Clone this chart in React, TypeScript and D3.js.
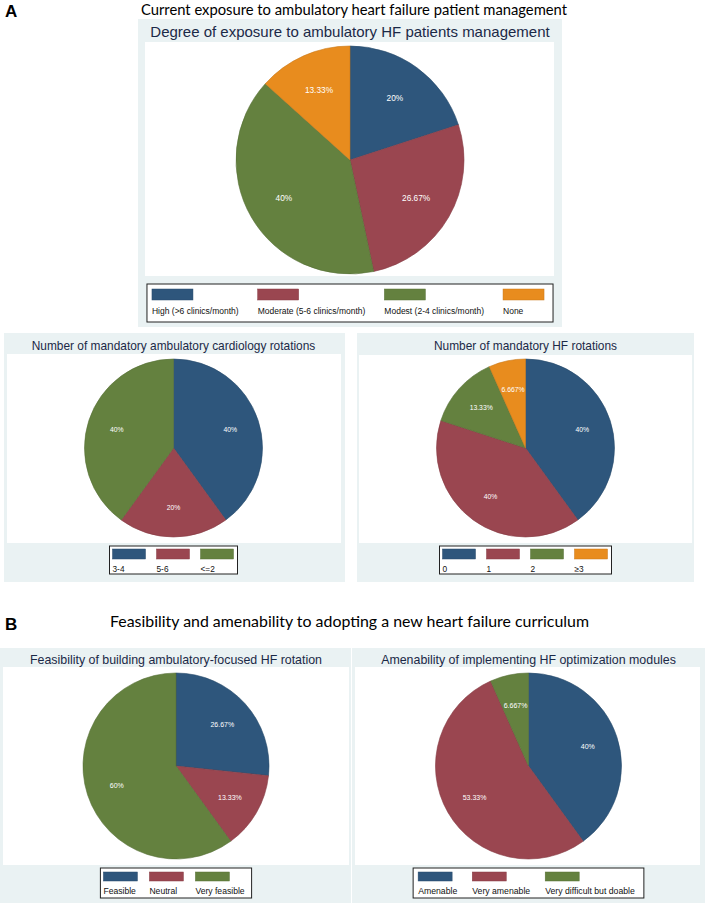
import React from "react";
import * as d3 from "d3";

// ---------- DATA ----------
const titleA = "Current exposure to ambulatory heart failure patient management";
const titleB = "Feasibility and amenability to adopting a new heart failure curriculum";

const exposureTitle = "Degree of exposure to ambulatory HF patients management";
const exposureCategories = ["High (>6 clinics/month)", "Moderate (5-6 clinics/month)", "Modest (2-4 clinics/month)", "None"];
const exposureValues = [20, 26.67, 40, 13.33];
const exposureLabels = ["20%", "26.67%", "40%", "13.33%"];

const cardioTitle = "Number of mandatory ambulatory cardiology rotations";
const cardioCategories = ["3-4", "5-6", "<=2"];
const cardioValues = [40, 20, 40];
const cardioLabels = ["40%", "20%", "40%"];

const hfRotTitle = "Number of mandatory HF rotations";
const hfRotCategories = ["0", "1", "2", "≥3"];
const hfRotValues = [40, 40, 13.33, 6.667];
const hfRotLabels = ["40%", "40%", "13.33%", "6.667%"];

const feasTitle = "Feasibility of building ambulatory-focused HF rotation";
const feasCategories = ["Feasible", "Neutral", "Very feasible"];
const feasValues = [26.67, 13.33, 60];
const feasLabels = ["26.67%", "13.33%", "60%"];

const amenTitle = "Amenability of implementing HF optimization modules";
const amenCategories = ["Amenable", "Very amenable", "Very difficult but doable"];
const amenValues = [40, 53.33, 6.667];
const amenLabels = ["40%", "53.33%", "6.667%"];

const palette = ["#2e567c", "#9a4650", "#64813f", "#e88c1e"];

// ---------- LAYOUT ----------
const BG = "#eaf2f3";
const TITLE_COLOR = "#1b2947";
const FONT = "'Liberation Sans', Arial, sans-serif";

type Layout = {
  bg: [number, number, number, number];
  plot: [number, number, number, number];
  titleY: number;
  titleSize: number;
  cx: number;
  cy: number;
  r: number;
  labelSize: number;
  legTop: number;
  legH: number;
  swW: number;
  swH: number;
  swTop: number;
  textBase: number;
  legFont: number;
  gap: number;
  padL: number;
  padR: number;
};

const panels: { title: string; cats: string[]; vals: number[]; labels: string[]; L: Layout }[] = [
  {
    title: exposureTitle, cats: exposureCategories, vals: exposureValues, labels: exposureLabels,
    L: { bg: [138, 19, 424, 308], plot: [145, 42, 409, 234], titleY: 36.5, titleSize: 15, cx: 350, cy: 160, r: 114, labelSize: 8.3,
      legTop: 284, legH: 38, swW: 41, swH: 11, swTop: 5, textBase: 29.5, legFont: 8.5, gap: 19, padL: 5, padR: 9 },
  },
  {
    title: cardioTitle, cats: cardioCategories, vals: cardioValues, labels: cardioLabels,
    L: { bg: [4, 333, 341, 249], plot: [7, 354, 334, 189], titleY: 349.5, titleSize: 11.9, cx: 173.5, cy: 448, r: 89, labelSize: 6.8,
      legTop: 546, legH: 28, swW: 33, swH: 10, swTop: 3, textBase: 25.5, legFont: 8.3, gap: 11, padL: 3, padR: 4 },
  },
  {
    title: hfRotTitle, cats: hfRotCategories, vals: hfRotValues, labels: hfRotLabels,
    L: { bg: [357, 333, 337, 249], plot: [359, 355, 333, 188], titleY: 349.5, titleSize: 11.9, cx: 525.5, cy: 448, r: 89, labelSize: 6.8,
      legTop: 546, legH: 28, swW: 33, swH: 10, swTop: 3, textBase: 25.5, legFont: 8.3, gap: 11, padL: 3, padR: 4 },
  },
  {
    title: feasTitle, cats: feasCategories, vals: feasValues, labels: feasLabels,
    L: { bg: [0, 648, 351, 255], plot: [3, 667, 346, 198], titleY: 663.5, titleSize: 12.4, cx: 176, cy: 766, r: 93, labelSize: 7,
      legTop: 868, legH: 30, swW: 34, swH: 9, swTop: 4, textBase: 26, legFont: 8.6, gap: 12, padL: 3, padR: 7 },
  },
  {
    title: amenTitle, cats: amenCategories, vals: amenValues, labels: amenLabels,
    L: { bg: [352, 648, 353, 255], plot: [355, 667, 345, 198], titleY: 663.5, titleSize: 12.4, cx: 528.5, cy: 766, r: 93, labelSize: 7,
      legTop: 868, legH: 30, swW: 34, swH: 9, swTop: 4, textBase: 26, legFont: 8.7, gap: 15, padL: 5, padR: 9 },
  },
];

let measureCtx: CanvasRenderingContext2D | null = null;
function textWidth(s: string, size: number): number {
  if (!measureCtx) measureCtx = document.createElement("canvas").getContext("2d");
  if (!measureCtx) return s.length * size * 0.5;
  measureCtx.font = `${size}px 'Liberation Sans', Arial, sans-serif`;
  return measureCtx.measureText(s).width;
}

function PiePanel({ title, cats, vals, labels, L }: { title: string; cats: string[]; vals: number[]; labels: string[]; L: Layout }) {
  const pie = d3.pie<number>().sort(null).value((d) => d);
  const arcs = pie(vals);
  const arc = d3.arc<d3.PieArcDatum<number>>().innerRadius(0).outerRadius(L.r);
  const labelArc = d3.arc<d3.PieArcDatum<number>>().innerRadius(L.r * 0.67).outerRadius(L.r * 0.67);
  const color = d3.scaleOrdinal<string, string>().domain(cats).range(palette);

  // legend columns
  const cols: number[] = [];
  let x = 0;
  cats.forEach((c, i) => {
    cols.push(x);
    const w = Math.max(L.swW, textWidth(c, L.legFont));
    x += w + (i < cats.length - 1 ? L.gap : 0);
  });
  const lastW = Math.max(L.swW, textWidth(cats[cats.length - 1], L.legFont));
  const contentW = cols[cols.length - 1] + lastW;
  const boxW = contentW + L.padL + L.padR;
  const boxX = L.cx - boxW / 2;

  return (
    <g>
      <rect x={L.bg[0]} y={L.bg[1]} width={L.bg[2]} height={L.bg[3]} fill={BG} />
      <rect x={L.plot[0]} y={L.plot[1]} width={L.plot[2]} height={L.plot[3]} fill="#ffffff" />
      <text x={L.cx} y={L.titleY} textAnchor="middle" fontFamily={FONT} fontSize={L.titleSize} fill={TITLE_COLOR}>
        {title}
      </text>
      <g transform={`translate(${L.cx},${L.cy})`}>
        {arcs.map((a, i) => (
          <path key={i} d={arc(a) || ""} fill={color(cats[i])} stroke={d3.color(color(cats[i]))!.darker(0.4).toString()} strokeWidth={0.6} />
        ))}
        {arcs.map((a, i) => {
          const [lx, ly] = labelArc.centroid(a);
          return (
            <text key={"l" + i} x={lx} y={ly} dy="0.35em" textAnchor="middle" fontFamily={FONT} fontSize={L.labelSize} fill="#ffffff">
              {labels[i]}
            </text>
          );
        })}
      </g>
      <rect x={boxX} y={L.legTop} width={boxW} height={L.legH} fill="#ffffff" stroke="#222" strokeWidth={1} />
      {cats.map((c, i) => (
        <g key={"k" + i}>
          <rect x={boxX + L.padL + cols[i]} y={L.legTop + L.swTop} width={L.swW} height={L.swH} fill={color(c)} stroke={d3.color(color(c))!.darker(0.4).toString()} strokeWidth={0.5} />
          <text x={boxX + L.padL + cols[i]} y={L.legTop + L.textBase} fontFamily={FONT} fontSize={L.legFont} fill="#111">
            {c}
          </text>
        </g>
      ))}
    </g>
  );
}

export default function App() {
  return (
    <svg width={705} height={905} style={{ position: "absolute", left: 0, top: 0, background: "#fff" }}>
      <rect x={0} y={0} width={705} height={905} fill="#ffffff" />
      <text x={5} y={17} fontFamily={FONT} fontWeight="bold" fontSize={17} fill="#000">A</text>
      <text x={141} y={15} fontFamily="Lato, 'Open Sans', sans-serif" fontSize={15} textLength={426} lengthAdjust="spacingAndGlyphs" fill="#000">
        {titleA}
      </text>
      <text x={5} y={630} fontFamily={FONT} fontWeight="bold" fontSize={17} fill="#000">B</text>
      <text x={110} y={627} fontFamily="Lato, 'Open Sans', sans-serif" fontSize={15} textLength={479} lengthAdjust="spacingAndGlyphs" fill="#000">
        {titleB}
      </text>
      {panels.map((p, i) => (
        <PiePanel key={i} {...p} />
      ))}
    </svg>
  );
}
